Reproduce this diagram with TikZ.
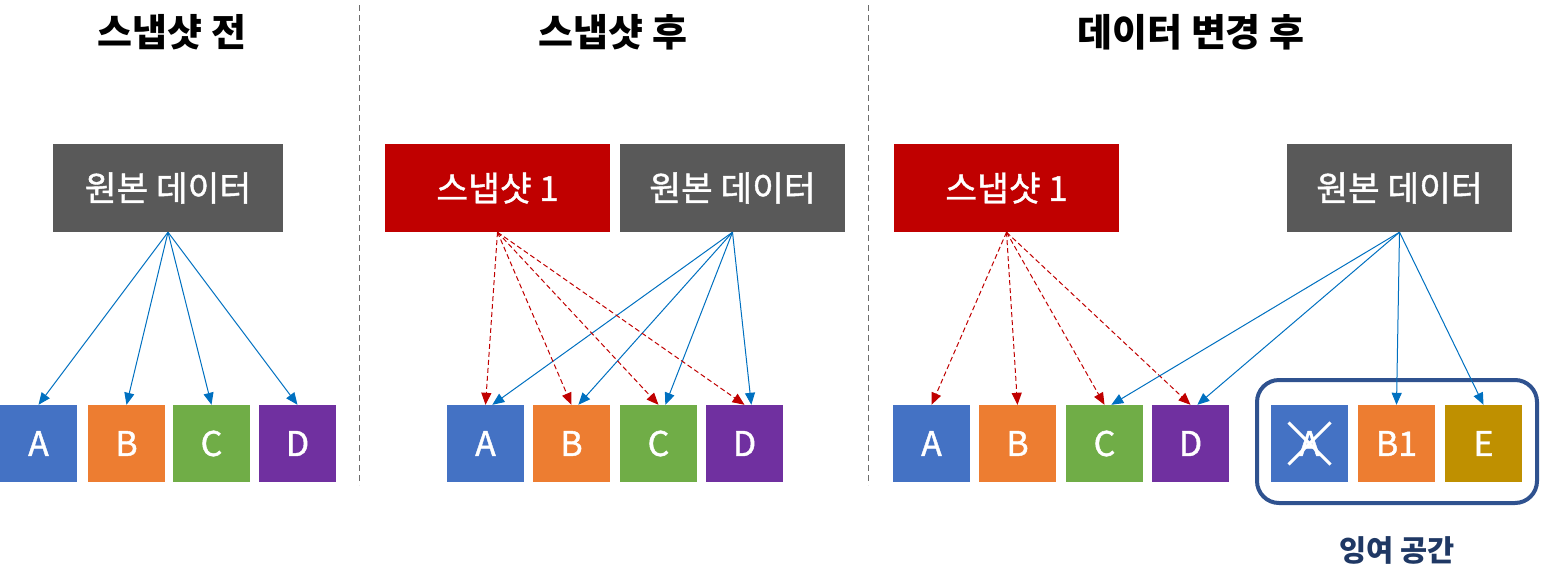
\documentclass[tikz,border=0pt]{standalone}
\usepackage{fontspec}
\setmainfont{Noto Sans CJK KR}
\newfontfamily\boxfont[FakeBold=1.2]{Noto Sans CJK KR}
\usetikzlibrary{arrows.meta}

\definecolor{boxgray}{HTML}{595959}
\definecolor{snapred}{HTML}{C00000}
\definecolor{linkblue}{HTML}{0070C0}
\definecolor{cellA}{HTML}{4472C4}
\definecolor{cellB}{HTML}{ED7D31}
\definecolor{cellC}{HTML}{70AD47}
\definecolor{cellD}{HTML}{7030A0}
\definecolor{cellE}{HTML}{BF9000}
\definecolor{framenavy}{HTML}{2F528F}
\definecolor{labelnavy}{HTML}{1F3864}

\begin{document}
\begin{tikzpicture}[x=1pt, y=-1pt,
    title/.style={font=\fontsize{38}{38}\selectfont\bfseries},
    databox/.style={fill=boxgray, text=white, inner sep=0, minimum width=230pt,
        minimum height=88pt, font=\fontsize{34.5}{34.5}\boxfont},
    snapbox/.style={databox, fill=snapred, minimum width=225pt},
    cell/.style={text=white, inner sep=0, minimum size=77pt,
        font=\fontsize{34}{34}\boxfont},
    link/.style={draw=linkblue, line width=1pt, -{Triangle[length=12pt,width=10pt]}},
    snaplink/.style={link, draw=snapred, dashed, dash pattern=on 5pt off 3pt},
    divider/.style={draw=gray!85!black, dash pattern=on 6pt off 4pt, line width=0.9pt}]
    \useasboundingbox (0,0) rectangle (1541,576);

    % titles and dividers
    \node[title] (t1) at (172,32) {스냅샷 전};
    \node[title] (t2) at (613,32) {스냅샷 후};
    \node[title] (t3) at (1191,32) {데이터 변경 후};
    \draw[divider] (359,5) -- (359,485);
    \draw[divider] (868,5) -- (868,485);

    % before snapshot
    \node[databox] (o1) at (168,188) {원본 데이터};
    \node[cell, fill=cellA] (a1) at (38.5,443.5) {A};
    \node[cell, fill=cellB] (b1) at (126.5,443.5) {B};
    \node[cell, fill=cellC] (c1) at (211.5,443.5) {C};
    \node[cell, fill=cellD] (d1) at (297.5,443.5) {D};
    \foreach \t in {a1,b1,c1,d1}
        \draw[link] (o1.south) -- (\t.north);

    % after snapshot
    \node[snapbox] (s2) at (497.5,188) {스냅샷 1};
    \node[databox, minimum width=225pt] (o2) at (732.5,188) {원본 데이터};
    \node[cell, fill=cellA] (a2) at (485.5,443.5) {A};
    \node[cell, fill=cellB] (b2) at (571.5,443.5) {B};
    \node[cell, fill=cellC] (c2) at (658.5,443.5) {C};
    \node[cell, fill=cellD] (d2) at (744.5,443.5) {D};
    \foreach \t in {a2,b2,c2,d2} {
        \draw[snaplink] (s2.south) -- (\t.north);
        \draw[link] (o2.south) -- (\t.80);
    }

    % after data change
    \node[snapbox] (s3) at (1006.5,188) {스냅샷 1};
    \node[databox, minimum width=225pt] (o3) at (1399.5,188) {원본 데이터};
    \node[cell, fill=cellA] (a3) at (931.5,443.5) {A};
    \node[cell, fill=cellB] (b3) at (1017.5,443.5) {B};
    \node[cell, fill=cellC] (c3) at (1104.5,443.5) {C};
    \node[cell, fill=cellD] (d3) at (1190.5,443.5) {D};
    \node[draw=framenavy, line width=4pt, rounded corners=22pt,
        minimum width=280pt, minimum height=123pt] (spare) at (1397,441.5) {};
    \node[cell, fill=cellA] (x3) at (1309.5,443.5) {A};
    \node[cell, fill=cellB] (n3) at (1396.5,443.5) {B1};
    \node[cell, fill=cellE] (e3) at (1483.5,443.5) {E};
    \draw[white, line width=3pt] ([shift={(-21,-21)}]x3.center) -- ([shift={(21,21)}]x3.center);
    \draw[white, line width=3pt] ([shift={(21,-21)}]x3.center) -- ([shift={(-21,21)}]x3.center);
    \node[text=labelnavy, font=\fontsize{29.5}{29.5}\selectfont\bfseries] (lbl) at (1397,550) {잉여 공간};
    \foreach \t in {a3,b3,c3,d3}
        \draw[snaplink] (s3.south) -- (\t.north);
    \draw[link] (o3.south) -- (c3.80);
    \draw[link] (o3.south) -- (d3.80);
    \draw[link] (o3.south) -- (n3.north);
    \draw[link] (o3.south) -- (e3.north);
\end{tikzpicture}
\end{document}
